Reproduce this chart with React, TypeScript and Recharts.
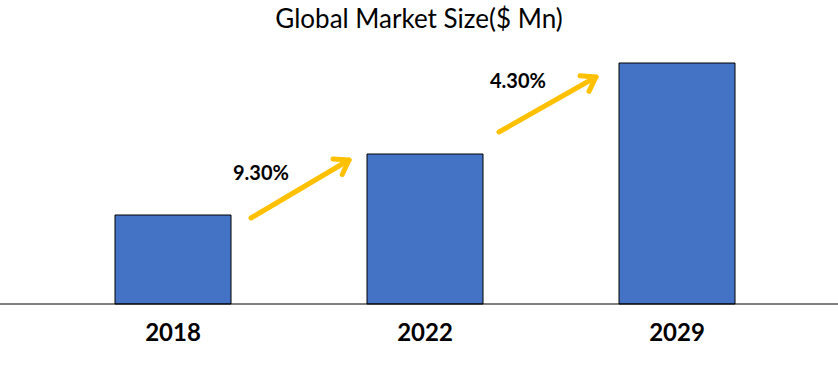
import React from "react";
import { BarChart, Bar, XAxis, YAxis, Customized } from "recharts";

const years = ["2018", "2022", "2029"];
const marketSize = [890, 1500, 2410];
const growthLabels = ["9.30%", "4.30%"];

const data = years.map((y, i) => ({ year: y, value: marketSize[i] }));

const arrows = [
  { x1: 251, y1: 218, x2: 349, y2: 160, lx: 233, ly: 180 },
  { x1: 499, y1: 132, x2: 596, y2: 77, lx: 490, ly: 88 },
];

const Arrow = ({ x1, y1, x2, y2 }: any) => {
  const ang = Math.atan2(y2 - y1, x2 - x1);
  const L = 16;
  const a1 = ang + Math.PI - 0.6;
  const a2 = ang + Math.PI + 0.6;
  return (
    <g stroke="#FFC000" strokeWidth={5} strokeLinecap="round" fill="none">
      <line x1={x1} y1={y1} x2={x2} y2={y2} />
      <polyline
        points={`${x2 + L * Math.cos(a1)},${y2 + L * Math.sin(a1)} ${x2},${y2} ${x2 + L * Math.cos(a2)},${y2 + L * Math.sin(a2)}`}
        strokeLinejoin="round"
      />
    </g>
  );
};

const Annotations = () => (
  <g>
    {arrows.map((a, i) => (
      <g key={i}>
        <Arrow {...a} />
        <text
          x={a.lx}
          y={a.ly}
          fontFamily="Lato"
          fontWeight="bold"
          fontSize={20}
          fill="#000"
        >
          {growthLabels[i]}
        </text>
      </g>
    ))}
  </g>
);

const Tick = ({ x, y, payload }: any) => (
  <text
    x={x}
    y={y + 29}
    textAnchor="middle"
    fontFamily="Lato"
    fontWeight="bold"
    fontSize={24}
    fill="#000"
  >
    {payload.value}
  </text>
);

export default function App() {
  return (
    <div style={{ width: 838, height: 385, position: "relative", background: "#fff" }}>
      <style>{`body{margin:0}`}</style>
      <div
        style={{
          position: "absolute",
          top: 0,
          left: 0,
          width: 838,
          textAlign: "center",
          fontFamily: "Lato",
          fontSize: 26,
          lineHeight: "36px",
          color: "#000",
        }}
      >
        Global Market Size($ Mn)
      </div>
      <BarChart
        width={838}
        height={385}
        data={data}
        margin={{ top: 40, right: 0, bottom: 41, left: 0 }}
        barCategoryGap={0}
      >
        <XAxis
          dataKey="year"
          axisLine={{ stroke: "#000", strokeWidth: 1 }}
          tickLine={false}
          tick={<Tick />}
          height={40}
          padding={{ left: 47, right: 35 }}
        />
        <YAxis hide domain={[0, 2640]} />
        <Bar
          dataKey="value"
          fill="#4472C4"
          stroke="#000"
          strokeWidth={1}
          barSize={116}
          isAnimationActive={false}
        />
        <Customized component={Annotations} />
      </BarChart>
    </div>
  );
}
